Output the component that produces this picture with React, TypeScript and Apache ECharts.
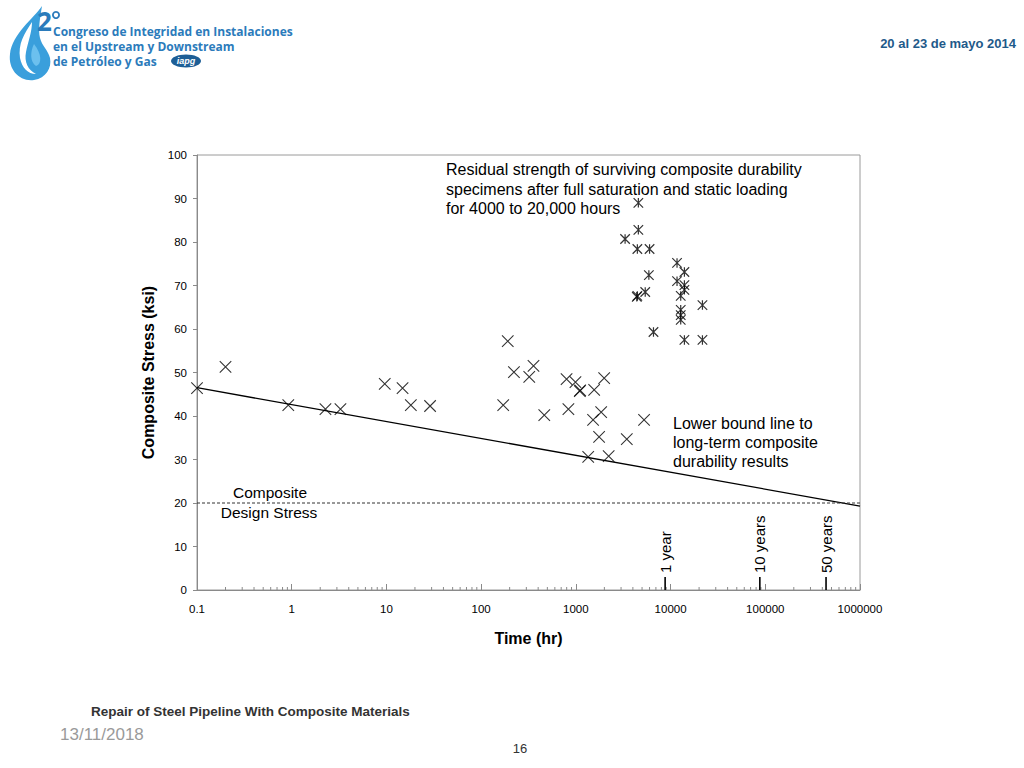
import React, { useEffect, useRef } from "react";
import * as echarts from "echarts";

// ---- data ----
const xTickLabels = ["0.1", "1", "10", "100", "1000", "10000", "100000", "1000000"];
const lowerTime = [0.1, 0.2, 0.92, 2.27, 3.27, 9.6, 14.8, 18.1, 28.9, 171, 191, 222, 322, 357, 464, 798, 834, 990, 1100, 1110, 1560, 1990, 1520, 1850, 1760, 1350, 2220, 3450, 5250];
const lowerStress = [46.4, 51.3, 42.5, 41.6, 41.6, 47.4, 46.4, 42.5, 42.3, 42.5, 57.2, 50.1, 49.0, 51.5, 40.2, 48.5, 41.6, 47.8, 45.7, 45.9, 46.0, 48.7, 39.1, 40.9, 35.2, 30.6, 30.8, 34.7, 39.1];
const upperTime = [4570, 4570, 3310, 4460, 6000, 5900, 4460, 4400, 5400, 6600, 11700, 14000, 11700, 14000, 14000, 12800, 12800, 12800, 12800, 14000, 21700, 21700];
const upperStress = [89.0, 82.8, 80.7, 78.4, 78.4, 72.4, 67.6, 67.4, 68.5, 59.3, 75.2, 73.1, 71.0, 70.1, 69.0, 67.6, 64.4, 63.2, 62.1, 57.5, 57.5, 65.5];
const boundTime = [0.1, 1000000];
const boundStress = [46.5, 19.3];
const designTime = [0.1, 1000000];
const designStress = [20, 20];
const yearHours = [8760, 87600, 438000];
const yearLabels = ["1 year", "10 years", "50 years"];
const logoLines = ["Congreso de Integridad en Instalaciones", "en el Upstream y Downstream", "de Petróleo y Gas"];

const dropPath =
  "M38 2 C30 14 8 30 6 50 C4 66 16 78 30 76 C42 74 48 64 46 54 C44 46 38 42 36 34 C34 26 36 14 38 2 Z";
const swirlPath =
  "M28 18 C20 30 14 40 16 54 C18 64 24 70 32 70 C24 66 20 58 22 48 C24 38 28 28 28 18 Z";
const innerPath = "M30 40 C26 48 26 58 32 62 C38 60 38 50 30 40 Z";

echarts.graphic.registerShape("logoDrop", echarts.graphic.extendPath(dropPath, {}));
echarts.graphic.registerShape("logoSwirl", echarts.graphic.extendPath(swirlPath, {}));
echarts.graphic.registerShape("logoInner", echarts.graphic.extendPath(innerPath, {}));

const zip = (a: number[], b: number[]) => a.map((v, i) => [v, b[i]]);

const minorTicks: number[][] = [];
for (let e = -1; e < 6; e++) {
  for (let m = 2; m <= 9; m++) minorTicks.push([m * Math.pow(10, e), 0]);
}

const AR = "'Liberation Sans', Arial, sans-serif";
const LOGO_BLUE = "#2b7bbb";

export default function App() {
  const ref = useRef<HTMLDivElement>(null);
  useEffect(() => {
    if (!ref.current) return;
    const chart = echarts.init(ref.current, undefined, { renderer: "svg" });
    const option: any = {
      animation: false,
      backgroundColor: "#ffffff",
      grid: {
        left: 197,
        right: 164,
        top: 155,
        bottom: 178,
        show: true,
        borderColor: "#9a9a9a",
        borderWidth: 1,
        backgroundColor: "transparent",
      },
      xAxis: {
        type: "log",
        logBase: 10,
        min: 0.1,
        max: 1000000,
        interval: 1,
        name: "Time (hr)",
        nameLocation: "middle",
        nameGap: 40,
        nameTextStyle: { fontFamily: AR, fontSize: 16, fontWeight: "bold", color: "#000" },
        axisLine: { lineStyle: { color: "#8a8a8a" } },
        axisTick: { inside: true, length: 6, lineStyle: { color: "#8a8a8a" } },
        axisLabel: {
          margin: 13,
          fontFamily: AR,
          fontSize: 11.5,
          color: "#000",
          formatter: (v: number) => xTickLabels[Math.round(Math.log10(v)) + 1] ?? "",
        },
        splitLine: { show: false },
      },
      yAxis: {
        type: "value",
        min: 0,
        max: 100,
        interval: 10,
        name: "Composite Stress (ksi)",
        nameLocation: "middle",
        nameGap: 41,
        nameTextStyle: { fontFamily: AR, fontSize: 16, fontWeight: "bold", color: "#000" },
        axisLine: { show: true, lineStyle: { color: "#8a8a8a" } },
        axisTick: { show: true, inside: false, length: 4, lineStyle: { color: "#8a8a8a" } },
        axisLabel: { margin: 10, fontFamily: AR, fontSize: 11.5, color: "#000" },
        splitLine: { show: false },
      },
      series: [
        {
          type: "line",
          data: zip(boundTime, boundStress),
          symbol: "none",
          lineStyle: { color: "#000", width: 1.3 },
          z: 3,
        },
        {
          type: "line",
          data: zip(designTime, designStress),
          symbol: "none",
          lineStyle: { color: "#333", width: 1, type: [3, 2] },
          z: 3,
        },
        {
          type: "scatter",
          data: zip(lowerTime, lowerStress),
          symbol: "path://M0,0L10,10M10,0L0,10",
          symbolSize: 11.5,
          itemStyle: { color: "none", borderColor: "#000", borderWidth: 1.1 },
          z: 4,
        },
        {
          type: "scatter",
          data: zip(upperTime, upperStress),
          symbol: "path://M0,0L10,10M10,0L0,10M5,0L5,10",
          symbolSize: 9.5,
          itemStyle: { color: "none", borderColor: "#000", borderWidth: 1.2 },
          z: 4,
        },
        {
          type: "custom",
          data: minorTicks,
          encode: { x: 0, y: 1 },
          silent: true,
          renderItem: (params: any, api: any) => {
            const p = api.coord([api.value(0), 0]);
            return {
              type: "line",
              shape: { x1: p[0], y1: p[1], x2: p[0], y2: p[1] - 3 },
              style: { stroke: "#8a8a8a", lineWidth: 1 },
            };
          },
          z: 2,
        },
        {
          type: "custom",
          data: yearHours.map((h) => [h, 0]),
          encode: { x: 0, y: 1 },
          silent: true,
          renderItem: (params: any, api: any) => {
            const p = api.coord([api.value(0), 0]);
            return {
              type: "group",
              children: [
                {
                  type: "line",
                  shape: { x1: p[0], y1: p[1], x2: p[0], y2: p[1] - 13 },
                  style: { stroke: "#000", lineWidth: 1.6 },
                },
                {
                  type: "text",
                  x: p[0],
                  y: p[1] - 17,
                  rotation: Math.PI / 2,
                  style: {
                    text: yearLabels[params.dataIndex],
                    fill: "#000",
                    font: `15px ${AR}`,
                    align: "left",
                    verticalAlign: "middle",
                  },
                },
              ],
            };
          },
          z: 5,
        },
      ],
      graphic: [
        // chart annotations
        {
          type: "text",
          left: 446,
          top: 160,
          style: {
            text: "Residual strength of surviving composite durability\nspecimens after full saturation and static loading\nfor 4000 to 20,000 hours",
            font: `16px ${AR}`,
            fill: "#000",
            lineHeight: 19.5,
          },
        },
        {
          type: "text",
          left: 673,
          top: 414,
          style: {
            text: "Lower bound line to\nlong-term composite\ndurability results",
            font: `16px ${AR}`,
            fill: "#000",
            lineHeight: 19,
          },
        },
        {
          type: "text",
          x: 270,
          y: 492,
          style: { text: "Composite", font: `15.5px ${AR}`, fill: "#000", align: "center", verticalAlign: "middle" },
        },
        {
          type: "text",
          x: 269,
          y: 512,
          style: { text: "Design Stress", font: `15.5px ${AR}`, fill: "#000", align: "center", verticalAlign: "middle" },
        },
        // header logo
        { type: "logoDrop", x: 4, y: 4, style: { fill: "#3a9fdc" } },
        { type: "logoSwirl", x: 4, y: 4, style: { fill: "#ffffff" } },
        { type: "logoInner", x: 4, y: 4, style: { fill: "#6cc0ee" } },
        {
          type: "text",
          x: 37,
          y: 21,
          style: { text: "2", font: `bold 26px 'Open Sans', sans-serif`, fill: LOGO_BLUE, verticalAlign: "middle" },
        },
        { type: "ring", shape: { cx: 56, cy: 15, r: 4, r0: 2.2 }, style: { fill: LOGO_BLUE } },
        ...logoLines.map((t, i) => ({
          type: "text",
          x: 53,
          y: 31 + i * 15,
          style: {
            text: t,
            font: `bold 12px 'Open Sans', sans-serif`,
            fill: LOGO_BLUE,
            verticalAlign: "middle",
          },
        })),
        { type: "ellipse", shape: { cx: 186, cy: 61, rx: 15, ry: 6.5 }, style: { fill: "#1d5e96" } },
        {
          type: "text",
          x: 186,
          y: 61,
          style: {
            text: "iapg",
            font: `italic bold 9px ${AR}`,
            fill: "#ffffff",
            align: "center",
            verticalAlign: "middle",
          },
        },
        {
          type: "text",
          x: 1016,
          y: 43,
          style: {
            text: "20 al 23 de mayo 2014",
            font: `bold 13px ${AR}`,
            fill: "#1f5a8a",
            align: "right",
            verticalAlign: "middle",
          },
        },
        // footer
        {
          type: "text",
          x: 91,
          y: 711,
          style: {
            text: "Repair of Steel Pipeline With Composite Materials",
            font: `bold 13.5px ${AR}`,
            fill: "#333",
            verticalAlign: "middle",
          },
        },
        {
          type: "text",
          x: 60,
          y: 734,
          style: { text: "13/11/2018", font: `17px ${AR}`, fill: "#9a9a9a", verticalAlign: "middle" },
        },
        {
          type: "text",
          x: 520,
          y: 748,
          style: { text: "16", font: `13px ${AR}`, fill: "#333", align: "center", verticalAlign: "middle" },
        },
      ],
    };
    chart.setOption(option);
    return () => chart.dispose();
  }, []);
  return (
    <div
      ref={ref}
      style={{ position: "fixed", left: 0, top: 0, width: 1024, height: 768, background: "#fff" }}
    />
  );
}
